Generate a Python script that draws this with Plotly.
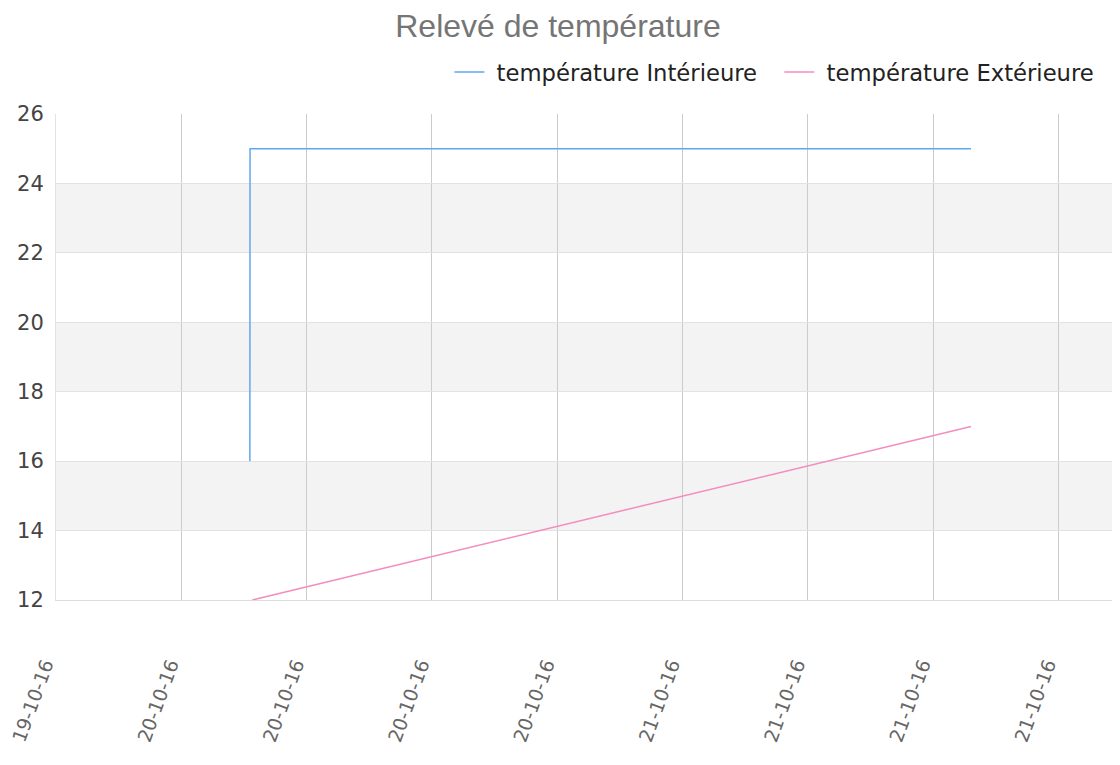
import plotly.graph_objects as go

# relevés (heure, valeur en °C)
interieur_t = ["2016-10-20 03:17", "2016-10-20 03:17:30", "2016-10-21 13:49"]
interieur_v = [16, 25, 25]
exterieur_t = ["2016-10-20 03:24", "2016-10-21 13:49"]
exterieur_v = [12, 17]

y_ticks = [12, 14, 16, 18, 20, 22, 24, 26]

fig = go.Figure()

fig.add_trace(go.Scatter(
    x=interieur_t, y=interieur_v, mode="lines",
    name="\u00a0température Intérieure",
    line=dict(color="#5ea8ee", width=1.5),
))
fig.add_trace(go.Scatter(
    x=exterieur_t, y=exterieur_v, mode="lines",
    name="\u00a0température Extérieure",
    line=dict(color="#f48cbf", width=1.5),
))

# bandes grises alternées
for lo, hi in zip(y_ticks[1::2], y_ticks[2::2]):
    fig.add_shape(type="rect", xref="paper", x0=0, x1=1, yref="y", y0=lo, y1=hi,
                  fillcolor="#f3f3f3", line_width=0, layer="below")

# la page a une marge de 8px : la figure fait 1112x757
fig.update_layout(
    width=1112, height=757,
    title=dict(text="Relevé de température", x=0.4946, xanchor="center", y=0.9762, yanchor="middle",
               font=dict(family="Liberation Sans, Arial", size=32, color="#757575")),
    legend=dict(orientation="h", x=0.990, xanchor="right", y=1.086, yanchor="middle",
                font=dict(family="DejaVu Sans", size=22.7, color="#222222"), itemwidth=30,
                entrywidth=285, entrywidthmode="pixels"),
    margin=dict(l=48, r=0, t=106, b=165, autoexpand=False),
    plot_bgcolor="white", paper_bgcolor="white",
)
fig.update_xaxes(
    type="date", range=["2016-10-19 18:00", "2016-10-21 20:57"],
    tick0="2016-10-19 18:00", dtick=6 * 3600 * 1000, tickformat="%d-%m-%y",
    tickangle=-70, ticklabelstandoff=45, ticklabelshift=-11, automargin=False,
    ticklabeloverflow="allow",
    tickfont=dict(family="DejaVu Sans", size=19, color="#666666"),
    showgrid=True, gridcolor="#cccccc", gridwidth=1,
    showline=True, linecolor="#dddddd", zeroline=False,
)
fig.update_yaxes(
    range=[12, 26], tickvals=y_ticks, automargin=False,
    tickfont=dict(family="DejaVu Sans", size=21, color="#444444"),
    ticklabelstandoff=7,
    showgrid=True, gridcolor="#e2e2e2", gridwidth=1,
    showline=True, linecolor="#e2e2e2", zeroline=False,
)

fig.write_html("out.html")
